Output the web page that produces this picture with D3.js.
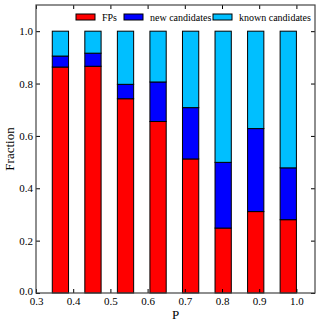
<!DOCTYPE html>
<html>
<head>
<meta charset="utf-8">
<script src="https://cdn.jsdelivr.net/npm/d3@7"></script>
<style>
	body { margin: 0; background: #fff; }
	svg text { font-family: "Liberation Serif", "DejaVu Serif", serif; fill: #000; }
</style>
</head>
<body>
<svg id="chart" width="321" height="327"></svg>
<script>
// bar left edges (P) and stacked fractions
var binStart = [0.34375, 0.43125, 0.51875, 0.60625, 0.69375, 0.78125, 0.86875, 0.95625];
var fpFrac = [0.863, 0.866, 0.742, 0.655, 0.512, 0.248, 0.311, 0.280];
var newFrac = [0.042, 0.050, 0.055, 0.151, 0.196, 0.251, 0.317, 0.198];
var knownFrac = [0.095, 0.084, 0.203, 0.194, 0.292, 0.501, 0.372, 0.522];
var xTicks = [0.3, 0.4, 0.5, 0.6, 0.7, 0.8, 0.9, 1.0];
var yTicks = [0.0, 0.2, 0.4, 0.6, 0.8, 1.0];
var seriesNames = ["FPs", "new candidates", "known candidates"];
var seriesColors = ["#ff0000", "#0000ff", "#00bfff"];

var margin = {top: 5, right: 6, bottom: 34, left: 36},
	width = 321 - margin.left - margin.right,
	height = 327 - margin.top - margin.bottom;

var x = d3.scaleLinear().domain([0.3, 1.05]).range([0, width]),
	y = d3.scaleLinear().domain([0, 1.1]).range([height, 0]);
var barWidth = x(0.3 + 0.04375) - x(0.3);

var svg = d3.select("#chart");
var g = svg.append("g")
	.attr("transform", "translate(" + margin.left + "," + margin.top + ")");

var rows = binStart.map(function(p, i) {
	return {p: p, FPs: fpFrac[i], "new candidates": newFrac[i], "known candidates": knownFrac[i]};
});
var stacked = d3.stack().keys(seriesNames)(rows);

g.selectAll(".layer")
	.data(stacked)
	.enter().append("g")
	.attr("class", "layer")
	.attr("fill", function(d, i) { return seriesColors[i]; })
	.selectAll("rect")
	.data(function(d) { return d; })
	.enter().append("rect")
	.attr("x", function(d) { return x(d.data.p); })
	.attr("y", function(d) { return y(d[1]); })
	.attr("width", barWidth)
	.attr("height", function(d) { return y(d[0]) - y(d[1]); })
	.attr("stroke", "#000")
	.attr("stroke-width", 1);

// axes, ticks pointing inward on all four sides
function styleAxis(sel) {
	sel.select(".domain").remove();
	sel.selectAll(".tick line").attr("stroke", "#000");
	sel.selectAll(".tick text").style("font-size", "11px");
}

g.append("g")
	.attr("transform", "translate(0," + height + ")")
	.call(d3.axisBottom(x).tickValues(xTicks).tickFormat(d3.format(".1f")).tickSizeInner(-4).tickSizeOuter(0).tickPadding(4))
	.call(styleAxis);
g.append("g")
	.call(d3.axisTop(x).tickValues(xTicks).tickFormat("").tickSizeInner(-4).tickSizeOuter(0))
	.call(styleAxis);
var yAxis = g.append("g")
	.call(d3.axisLeft(y).tickValues(yTicks).tickFormat(d3.format(".1f")).tickSizeInner(-4).tickSizeOuter(0).tickPadding(3))
	.call(styleAxis);
// lift the 0.0 label a little so it clears the 0.3 label
yAxis.selectAll(".tick text").filter(function(d) { return d === 0; }).attr("dy", "0.1em");
g.append("g")
	.attr("transform", "translate(" + width + ",0)")
	.call(d3.axisRight(y).tickValues(yTicks).tickFormat("").tickSizeInner(-4).tickSizeOuter(0))
	.call(styleAxis);

g.append("rect")
	.attr("width", width)
	.attr("height", height)
	.attr("fill", "none")
	.attr("stroke", "#444")
	.attr("stroke-width", 1.2);

// axis titles
svg.append("text")
	.attr("x", margin.left + x(0.675))
	.attr("y", 319)
	.attr("text-anchor", "middle")
	.style("font-size", "13px")
	.text("P");
svg.append("text")
	.attr("transform", "translate(14," + (margin.top + height / 2) + ") rotate(-90)")
	.attr("text-anchor", "middle")
	.style("font-size", "13px")
	.text("Fraction");

// legend
var legendX = [76, 124, 213];
var legend = svg.append("g");
seriesNames.forEach(function(name, i) {
	legend.append("rect")
		.attr("x", legendX[i])
		.attr("y", 14)
		.attr("width", 19)
		.attr("height", 6)
		.attr("fill", seriesColors[i])
		.attr("stroke", "#000")
		.attr("stroke-width", 1);
	legend.append("text")
		.attr("x", legendX[i] + 26)
		.attr("y", 20.5)
		.style("font-size", "10px")
		.text(name);
});
</script>
</body>
</html>
